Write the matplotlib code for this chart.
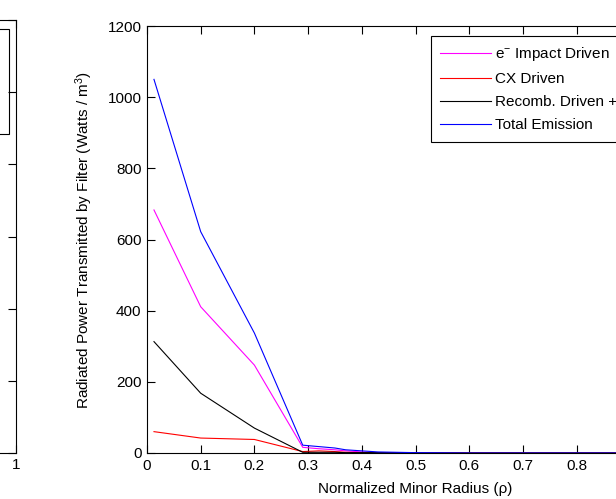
import numpy as np
import matplotlib
matplotlib.use("Agg")
import matplotlib.pyplot as plt
import matplotlib.patches as mpatches

plt.rcParams['font.family'] = ['Liberation Sans', 'DejaVu Sans']
plt.rcParams['mathtext.fontset'] = 'custom'
plt.rcParams['mathtext.rm'] = 'Liberation Sans'
plt.rcParams['mathtext.default'] = 'regular'

# radial positions (normalized minor radius)
rho = [0.013, 0.1, 0.2, 0.29, 0.32, 0.35, 0.37, 0.4, 0.43, 0.5, 0.6, 0.7, 0.8, 0.9, 1.0]

# radiated power transmitted by filter (W / m^3)
impact_driven = [683, 411, 247, 16, 12, 9, 6, 3, 1, 0, 0, 0, 0, 0, 0]
cx_driven = [60, 42, 38, 4, 6, 4, 2, 1, 0, 0, 0, 0, 0, 0, 0]
recomb_driven = [313, 168, 70, 2, 2, 2, 1, 1, 1, 0, 0, 0, 0, 0, 0]
total_emission = [1050, 622, 337, 22, 18, 14, 9, 6, 3, 1, 0, 0, 0, 0, 0]

xtick_vals = [0, 0.1, 0.2, 0.3, 0.4, 0.5, 0.6, 0.7, 0.8, 0.9, 1]
xtick_labels = ["0", "0.1", "0.2", "0.3", "0.4", "0.5", "0.6", "0.7", "0.8", "0.9", "1"]
ytick_vals = [0, 200, 400, 600, 800, 1000, 1200]

W, H = 616, 499
fig = plt.figure(figsize=(W / 100, H / 100), dpi=100)
fs = 11

# left subplot (mostly cut off by the crop)
axl = fig.add_axes([-0.75, (H - 453) / H, 0.75 + 16 / W, (453 - 20) / H])
axl.set_xlim(0, 1)
axl.set_ylim(0, 6)
axl.set_xticks([1])
axl.set_xticklabels(["1"])
axl.set_yticks([0, 1, 2, 3, 4, 5, 6])
axl.set_yticklabels([])
axl.tick_params(direction='in', top=True, right=True, labelsize=fs, length=6, width=0.8)
for s in axl.spines.values():
    s.set_linewidth(0.8)
fig.patches.append(mpatches.Rectangle((-0.1, (H - 134) / H), 0.1 + 9 / W, (134 - 29) / H,
                                      transform=fig.transFigure, fill=False,
                                      edgecolor='black', linewidth=0.8))

# main axes
ax = fig.add_axes([147 / W, (H - 453) / H, (684 - 147) / W, (453 - 26) / H])
ax.plot(rho, impact_driven, color='magenta', linewidth=0.8, label='e$^{-}$ Impact Driven')
ax.plot(rho, cx_driven, color='red', linewidth=0.8, label='CX Driven')
ax.plot(rho, recomb_driven, color='black', linewidth=0.8, label='Recomb. Driven + Bremsstrahlung')
ax.plot(rho, total_emission, color='blue', linewidth=0.8, label='Total Emission')

ax.set_xlim(0, 1)
ax.set_ylim(0, 1200)
ax.set_xticks(xtick_vals)
ax.set_xticklabels(xtick_labels)
ax.set_yticks(ytick_vals)
ax.tick_params(direction='in', top=True, right=True, labelsize=fs, length=6, width=0.8, pad=4)
for s in ax.spines.values():
    s.set_linewidth(0.8)
ax.set_xlabel('Normalized Minor Radius (\u03c1)', fontsize=fs, labelpad=7)
ax.set_ylabel('Radiated Power Transmitted by Filter (Watts / m$^3$)', fontsize=fs, labelpad=9)

leg = ax.legend(loc='upper left', bbox_to_anchor=(431 / W, (H - 36) / H),
                bbox_transform=fig.transFigure, borderaxespad=0, fontsize=fs,
                fancybox=False, framealpha=1, edgecolor='black', handlelength=3.3,
                handletextpad=0.3, labelspacing=0.58, borderpad=0.62)
leg.get_frame().set_linewidth(0.8)

fig.savefig("out.png", dpi=100)
